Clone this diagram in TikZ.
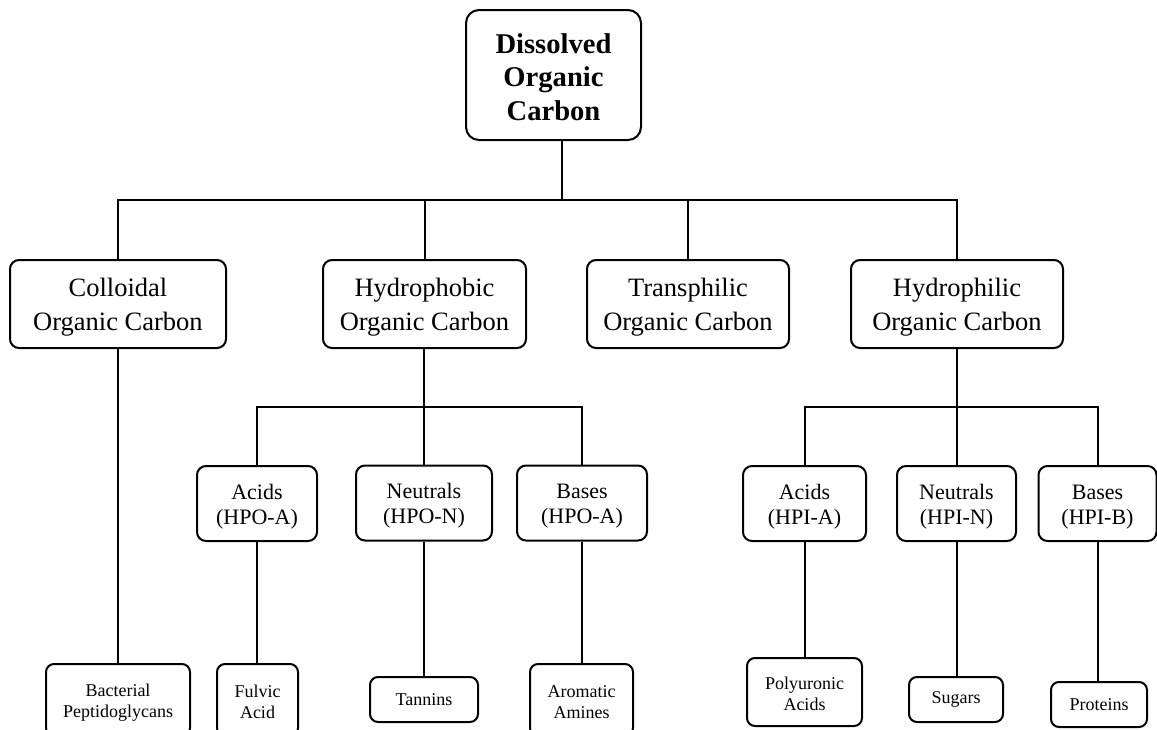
\documentclass[tikz,border=0pt]{standalone}
\usepackage{fontspec}
\setmainfont{Liberation Serif}
\newcommand{\fstrut}[1][0.95em]{\rule{0pt}{#1}}
\begin{document}
\begin{tikzpicture}[x=1pt,y=-1pt,
  box/.style={draw, line width=2pt, rounded corners=9pt, inner sep=0pt, align=center},
  topbox/.style={box, rounded corners=13pt, font=\bfseries\fontsize{28.6}{33.5}\selectfont},
  lvtwo/.style={box, minimum height=88pt, font=\fontsize{26.5}{33.5}\selectfont},
  lvthree/.style={box, minimum height=75pt, font=\fontsize{22}{25}\selectfont},
  leaf/.style={box, rounded corners=8pt, font=\fontsize{18}{21}\selectfont},
  conn/.style={line width=2pt},
  trunk/.style={line width=2.8pt}]
\clip (0,0) rectangle (1157,729);
\fill[white] (0,0) rectangle (1157,729);

% top
\node[topbox, minimum width=175pt, minimum height=130pt] (doc) at (553.5,75) {\fstrut[0.83em]Dissolved\\Organic\\Carbon};

% level two
\node[lvtwo, minimum width=216pt] (coll) at (118,304) {\fstrut Colloidal\\Organic Carbon};
\node[lvtwo, minimum width=203pt] (hpo) at (424.5,304) {\fstrut Hydrophobic\\Organic Carbon};
\node[lvtwo, minimum width=202pt] (tpi) at (688,304) {\fstrut Transphilic\\Organic Carbon};
\node[lvtwo, minimum width=212pt] (hpi) at (957,304) {\fstrut Hydrophilic\\Organic Carbon};

% level three
\node[lvthree, minimum width=120pt] (hpoa) at (257,503.5) {\fstrut Acids\\(HPO-A)};
\node[lvthree, minimum width=136pt] (hpon) at (424,503) {\fstrut Neutrals\\(HPO-N)};
\node[lvthree, minimum width=130pt] (hpob) at (582,503) {\fstrut Bases\\(HPO-A)};
\node[lvthree, minimum width=123pt] (hpia) at (804.5,503.5) {\fstrut Acids\\(HPI-A)};
\node[lvthree, minimum width=119pt] (hpin) at (956.5,503.5) {\fstrut Neutrals\\(HPI-N)};
\node[lvthree, minimum width=118pt] (hpib) at (1097.5,503.5) {\fstrut Bases\\(HPI-B)};

% leaves
\node[leaf, minimum width=144pt, minimum height=72pt] (bact) at (118,700) {\fstrut Bacterial\\Peptidoglycans};
\node[leaf, minimum width=81pt, minimum height=72pt] (fulv) at (257.5,700) {\fstrut Fulvic\\Acid};
\node[leaf, minimum width=108pt, minimum height=45pt] (tann) at (424,699.5) {Tannins};
\node[leaf, minimum width=103pt, minimum height=72pt] (arom) at (581.5,700) {\fstrut Aromatic\\Amines};
\node[leaf, minimum width=115pt, minimum height=68pt] (poly) at (804.5,692) {\fstrut Polyuronic\\Acids};
\node[leaf, minimum width=94pt, minimum height=45pt] (suga) at (956,699.5) {Sugars};
\node[leaf, minimum width=96pt, minimum height=45pt] (prot) at (1099,704.5) {Proteins};

% junctions
\coordinate (j1) at (562,200);
\coordinate (j2) at (424,407);
\coordinate (j3) at (957,407);

% top connectors
\draw[trunk] (doc.south -| j1) -- (j1);
\draw[conn] (coll.north) -- (coll.north |- j1) -- (hpi.north |- j1) -- (hpi.north);
\draw[trunk] (hpo.north |- j1) -- (j1);
\draw[conn] (hpo.north |- j1) -- (hpo.north);
\draw[conn] (tpi.north |- j1) -- (tpi.north);

% colloidal
\draw[conn] (coll.south) -- (bact.north -| coll.south);

% hydrophobic
\draw[trunk] (hpo.south -| j2) -- (j2);
\draw[conn] (hpoa.north) -- (hpoa.north |- j2) -- (hpob.north |- j2) -- (hpob.north);
\draw[conn] (hpon.north |- j2) -- (hpon.north);

% hydrophilic
\draw[trunk] (hpi.south -| j3) -- (j3);
\draw[conn] (hpia.north) -- (hpia.north |- j3) -- (hpib.north |- j3) -- (hpib.north);
\draw[conn] (hpin.north |- j3) -- (hpin.north);

% leaves
\draw[conn] (hpoa.south) -- (fulv.north -| hpoa.south);
\draw[conn] (hpon.south) -- (tann.north -| hpon.south);
\draw[conn] (hpob.south) -- (arom.north -| hpob.south);
\draw[conn] (hpia.south) -- (poly.north -| hpia.south);
\draw[conn] (hpin.south) -- (suga.north -| hpin.south);
\draw[conn] (hpib.south) -- (prot.north -| hpib.south);
\end{tikzpicture}
\end{document}
